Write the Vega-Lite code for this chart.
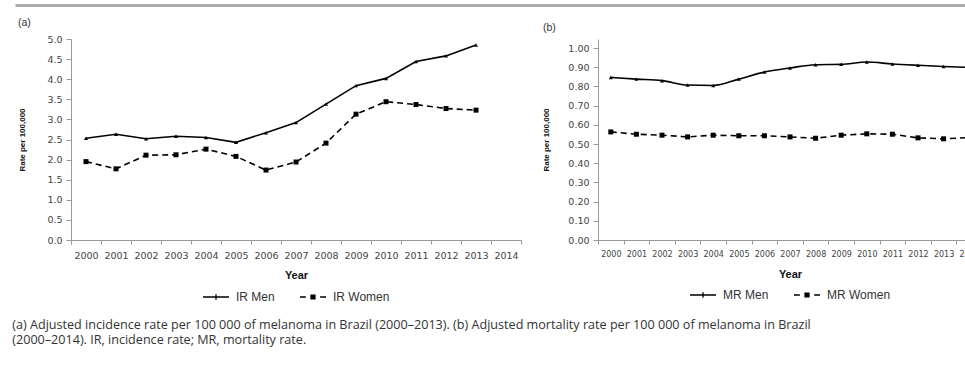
{
  "$schema": "https://vega.github.io/schema/vega-lite/v6.json",
  "background": "white",
  "padding": {"left": 12, "top": 2, "right": 0, "bottom": 0},
  "config": {
    "view": {"stroke": null},
    "axis": {"grid": false, "domainColor": "#999", "tickColor": "#999", "labelColor": "#444", "labelFont": "DejaVu Sans", "titleFont": "Liberation Sans", "titleColor": "#111"},
    "legend": {"layout": {"bottom": {"anchor": "middle"}}}
  },
  "title": {
    "text": ["(a) Adjusted incidence rate per 100 000 of melanoma in Brazil (2000–2013). (b) Adjusted mortality rate per 100 000 of melanoma in Brazil", "(2000–2014). IR, incidence rate; MR, mortality rate."],
    "orient": "bottom", "anchor": "start", "frame": "bounds", "offset": 16, "dx": 0,
    "font": "Open Sans", "fontSize": 12.6, "fontWeight": "normal", "color": "#333", "lineHeight": 15
  },
  "datasets": {
    "ir": [
      {"year": 2000, "series": "IR Men", "rate": 2.53},
      {"year": 2001, "series": "IR Men", "rate": 2.63},
      {"year": 2002, "series": "IR Men", "rate": 2.52},
      {"year": 2003, "series": "IR Men", "rate": 2.58},
      {"year": 2004, "series": "IR Men", "rate": 2.55},
      {"year": 2005, "series": "IR Men", "rate": 2.43},
      {"year": 2006, "series": "IR Men", "rate": 2.67},
      {"year": 2007, "series": "IR Men", "rate": 2.92},
      {"year": 2008, "series": "IR Men", "rate": 3.38},
      {"year": 2009, "series": "IR Men", "rate": 3.84},
      {"year": 2010, "series": "IR Men", "rate": 4.02},
      {"year": 2011, "series": "IR Men", "rate": 4.44},
      {"year": 2012, "series": "IR Men", "rate": 4.58},
      {"year": 2013, "series": "IR Men", "rate": 4.85},
      {"year": 2000, "series": "IR Women", "rate": 1.95},
      {"year": 2001, "series": "IR Women", "rate": 1.77},
      {"year": 2002, "series": "IR Women", "rate": 2.11},
      {"year": 2003, "series": "IR Women", "rate": 2.12},
      {"year": 2004, "series": "IR Women", "rate": 2.26},
      {"year": 2005, "series": "IR Women", "rate": 2.08},
      {"year": 2006, "series": "IR Women", "rate": 1.74},
      {"year": 2007, "series": "IR Women", "rate": 1.94},
      {"year": 2008, "series": "IR Women", "rate": 2.41},
      {"year": 2009, "series": "IR Women", "rate": 3.13},
      {"year": 2010, "series": "IR Women", "rate": 3.44},
      {"year": 2011, "series": "IR Women", "rate": 3.37},
      {"year": 2012, "series": "IR Women", "rate": 3.27},
      {"year": 2013, "series": "IR Women", "rate": 3.23}
    ],
    "mr": [
      {"year": 2000, "series": "MR Men", "rate": 0.847},
      {"year": 2001, "series": "MR Men", "rate": 0.838},
      {"year": 2002, "series": "MR Men", "rate": 0.830},
      {"year": 2003, "series": "MR Men", "rate": 0.807},
      {"year": 2004, "series": "MR Men", "rate": 0.805},
      {"year": 2005, "series": "MR Men", "rate": 0.838},
      {"year": 2006, "series": "MR Men", "rate": 0.875},
      {"year": 2007, "series": "MR Men", "rate": 0.896},
      {"year": 2008, "series": "MR Men", "rate": 0.913},
      {"year": 2009, "series": "MR Men", "rate": 0.915},
      {"year": 2010, "series": "MR Men", "rate": 0.927},
      {"year": 2011, "series": "MR Men", "rate": 0.917},
      {"year": 2012, "series": "MR Men", "rate": 0.910},
      {"year": 2013, "series": "MR Men", "rate": 0.904},
      {"year": 2014, "series": "MR Men", "rate": 0.899},
      {"year": 2000, "series": "MR Women", "rate": 0.563},
      {"year": 2001, "series": "MR Women", "rate": 0.551},
      {"year": 2002, "series": "MR Women", "rate": 0.546},
      {"year": 2003, "series": "MR Women", "rate": 0.537},
      {"year": 2004, "series": "MR Women", "rate": 0.546},
      {"year": 2005, "series": "MR Women", "rate": 0.543},
      {"year": 2006, "series": "MR Women", "rate": 0.543},
      {"year": 2007, "series": "MR Women", "rate": 0.537},
      {"year": 2008, "series": "MR Women", "rate": 0.530},
      {"year": 2009, "series": "MR Women", "rate": 0.546},
      {"year": 2010, "series": "MR Women", "rate": 0.553},
      {"year": 2011, "series": "MR Women", "rate": 0.551},
      {"year": 2012, "series": "MR Women", "rate": 0.532},
      {"year": 2013, "series": "MR Women", "rate": 0.527},
      {"year": 2014, "series": "MR Women", "rate": 0.534}
    ],
    "rulebase": [{"v": 0}, {"v": 1}]
  },
  "columns": 1,
  "align": "none",
  "spacing": 8,
  "concat": [
    {
      "width": 897,
      "height": 1,
      "data": {"name": "rulebase"},
      "mark": {"type": "point", "opacity": 0},
      "encoding": {
        "x": {"field": "v", "type": "quantitative", "scale": {"domain": [0, 1], "nice": false, "range": [-56, 897]},
          "axis": {"orient": "top", "domainColor": "#aaa", "domainWidth": 3, "ticks": false, "labels": false, "title": null, "grid": false}}
      }
    },
    {
      "spacing": 20,
      "resolve": {"scale": {"shape": "independent"}, "legend": {"shape": "independent"}},
      "hconcat": [
        {
          "width": 450,
          "height": 201,
          "title": {"text": "(a)", "anchor": "start", "frame": "group", "dx": -53, "offset": 6, "font": "Liberation Sans", "fontSize": 10.5, "fontWeight": "normal", "color": "#333"},
          "data": {"name": "ir"},
          "encoding": {
            "x": {"field": "year", "type": "ordinal", "title": "Year",
              "scale": {"type": "band", "domain": [2000, 2001, 2002, 2003, 2004, 2005, 2006, 2007, 2008, 2009, 2010, 2011, 2012, 2013, 2014], "paddingInner": 0, "paddingOuter": 0},
              "axis": {"labelAngle": 0, "labelFontSize": 9.5, "labelOverlap": false, "tickBand": "extent", "tickSize": 4, "labelPadding": 6, "titleFontSize": 11, "titleFontWeight": "bold", "titlePadding": 10}},
            "y": {"field": "rate", "type": "quantitative", "title": "Rate per 100,000",
              "scale": {"domain": [0, 5], "nice": false},
              "axis": {"values": [0, 0.5, 1, 1.5, 2, 2.5, 3, 3.5, 4, 4.5, 5], "format": ".1f", "labelFontSize": 9.5, "tickSize": 5, "labelPadding": 4, "titleFontSize": 8, "titleFontWeight": "bold", "titlePadding": 20}}
          },
          "layer": [
            {"transform": [{"filter": "datum.series === 'IR Men'"}],
              "mark": {"type": "line", "color": "black", "strokeWidth": 1.6}},
            {"transform": [{"filter": "datum.series === 'IR Women'"}],
              "mark": {"type": "line", "color": "black", "strokeWidth": 1.6, "strokeDash": [6, 4]}},
            {"transform": [{"filter": "datum.series === 'IR Men'"}],
              "mark": {"type": "point", "shape": "triangle-up", "filled": true, "color": "black", "size": 16, "opacity": 1}},
            {"transform": [{"filter": "datum.series === 'IR Women'"}],
              "mark": {"type": "point", "shape": "square", "filled": true, "color": "black", "size": 25, "opacity": 1}},
            {"mark": {"type": "point", "filled": true, "color": "black", "size": 676, "opacity": 0},
              "encoding": {"shape": {"field": "series", "type": "nominal",
                "scale": {"domain": ["IR Men", "IR Women"], "range": ["M-1,-0.05H1V0.05H-1Z M-0.05,-0.22H0.05V0.22H-0.05Z", "M-1,-0.05H-0.55V0.05H-1Z M0.55,-0.05H1V0.05H0.55Z M-0.2,-0.2H0.2V0.2H-0.2Z"]},
                "legend": {"title": null, "orient": "bottom", "offset": 2, "direction": "horizontal", "labelFont": "Liberation Sans", "labelFontSize": 12, "labelColor": "#333", "symbolSize": 676, "symbolOpacity": 1, "symbolFillColor": "black", "columnPadding": 22, "labelOffset": 6,
                  "encode": {"symbols": {"opacity": {"value": 1}, "fill": {"value": "black"}}}}}}}
          ]
        },
        {
          "width": 384,
          "height": 201,
          "title": {"text": "(b)", "anchor": "start", "frame": "group", "dx": -55, "offset": 6, "font": "Liberation Sans", "fontSize": 10.5, "fontWeight": "normal", "color": "#333"},
          "data": {"name": "mr"},
          "encoding": {
            "x": {"field": "year", "type": "ordinal", "title": "Year",
              "scale": {"type": "band", "domain": [2000, 2001, 2002, 2003, 2004, 2005, 2006, 2007, 2008, 2009, 2010, 2011, 2012, 2013, 2014], "paddingInner": 0, "paddingOuter": 0},
              "axis": {"labelAngle": 0, "labelFontSize": 8, "labelOverlap": false, "tickBand": "extent", "tickSize": 4, "labelPadding": 6, "titleFontSize": 11, "titleFontWeight": "bold", "titlePadding": 10}},
            "y": {"field": "rate", "type": "quantitative", "title": "Rate per 100,000",
              "scale": {"domain": [0, 1.047], "nice": false},
              "axis": {"values": [0, 0.1, 0.2, 0.3, 0.4, 0.5, 0.6, 0.7, 0.8, 0.9, 1], "format": ".2f", "labelFontSize": 9.5, "tickSize": 5, "labelPadding": 4, "titleFontSize": 8, "titleFontWeight": "bold", "titlePadding": 17}}
          },
          "layer": [
            {"transform": [{"filter": "datum.series === 'MR Men'"}],
              "mark": {"type": "line", "color": "black", "strokeWidth": 1.6, "interpolate": "monotone"}},
            {"transform": [{"filter": "datum.series === 'MR Women'"}],
              "mark": {"type": "line", "color": "black", "strokeWidth": 1.6, "strokeDash": [6, 4]}},
            {"transform": [{"filter": "datum.series === 'MR Men'"}],
              "mark": {"type": "point", "shape": "triangle-up", "filled": true, "color": "black", "size": 16, "opacity": 1}},
            {"transform": [{"filter": "datum.series === 'MR Women'"}],
              "mark": {"type": "point", "shape": "square", "filled": true, "color": "black", "size": 25, "opacity": 1}},
            {"mark": {"type": "point", "filled": true, "color": "black", "size": 676, "opacity": 0},
              "encoding": {"shape": {"field": "series", "type": "nominal",
                "scale": {"domain": ["MR Men", "MR Women"], "range": ["M-1,-0.05H1V0.05H-1Z M-0.05,-0.22H0.05V0.22H-0.05Z", "M-1,-0.05H-0.55V0.05H-1Z M0.55,-0.05H1V0.05H0.55Z M-0.2,-0.2H0.2V0.2H-0.2Z"]},
                "legend": {"title": null, "orient": "bottom", "offset": 2, "direction": "horizontal", "labelFont": "Liberation Sans", "labelFontSize": 12, "labelColor": "#333", "symbolSize": 676, "symbolOpacity": 1, "symbolFillColor": "black", "columnPadding": 22, "labelOffset": 6,
                  "encode": {"symbols": {"opacity": {"value": 1}, "fill": {"value": "black"}}}}}}}
          ]
        }
      ]
    }
  ]
}
